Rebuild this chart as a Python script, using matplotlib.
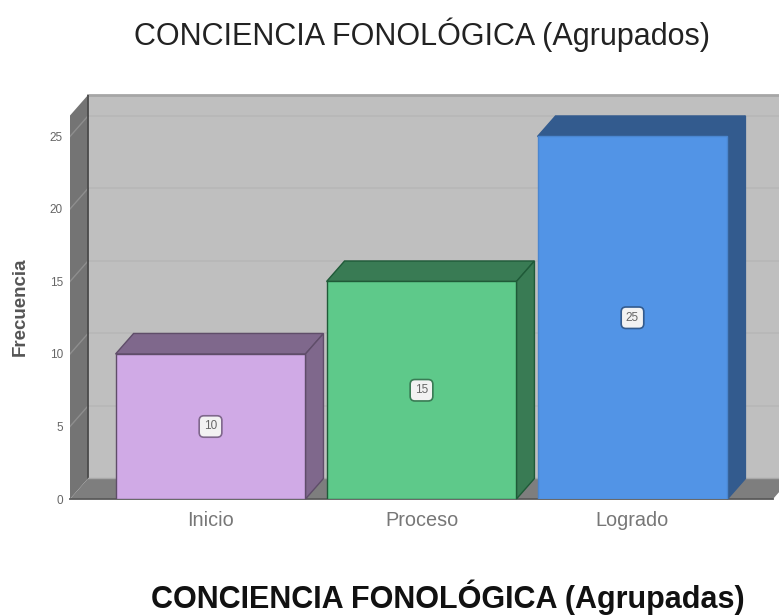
import numpy as np
import matplotlib
matplotlib.use('Agg')
import matplotlib.pyplot as plt
from matplotlib.patches import Polygon

categories = ['Inicio', 'Proceso', 'Logrado']
values = [10, 15, 25]
front_colors = ['#d0aae6', '#5ec98a', '#5294e6']
side_colors = ['#7f688c', '#397b54', '#335b8e']
edge_colors = ['#5f4d69', '#1f5a38', '#4a86d0']
side_edges = ['#5f4d69', '#1f5a38', '#335b8e']
y_ticks = [0, 5, 10, 15, 20, 25]

plt.rcParams['font.family'] = ['Liberation Sans', 'DejaVu Sans']

W, H = 779, 616
fig = plt.figure(figsize=(W / 100, H / 100), dpi=100)
ax = fig.add_axes([70 / W, (H - 499) / H, (773 - 70) / W, (499 - 95) / H])
ax.set_xlim(-0.666, 2.666)
ax.set_ylim(0, 27.86)
for s in ax.spines.values():
    s.set_visible(False)
ax.patch.set_visible(False)

# depth of the fake 3d box, in data units
dx = 18 / 211
dy = 20.5 / 14.5
x0, x1 = ax.get_xlim()
ytop = ax.get_ylim()[1]


def poly(points, fc, ec='none', lw=0.0, z=1):
    ax.add_patch(Polygon(points, closed=True, facecolor=fc, edgecolor=ec, linewidth=lw,
                         zorder=z, clip_on=False))


# walls
poly([(x0 + dx, dy), (x1 + dx, dy), (x1 + dx, ytop), (x0 + dx, ytop)], '#bfbfbf', z=1)
poly([(x0, 0), (x0 + dx, dy), (x0 + dx, ytop), (x0, ytop - dy)], '#747474', z=2)
poly([(x0, 0), (x1, 0), (x1 + dx, dy), (x0 + dx, dy)], '#7e7e7e', z=2)
ax.plot([x0 + dx, x1 + dx], [ytop, ytop], color='#a6a6a6', lw=2, zorder=3, clip_on=False)
ax.plot([x0 + dx, x0 + dx], [dy, ytop], color='#4a4a4a', lw=1.3, zorder=3)
ax.plot([x0 + dx, x1 + dx], [dy, dy], color='#a8a8a8', lw=1, zorder=3, clip_on=False)
ax.plot([x0, x1], [0, 0], color='#5a5a5a', lw=1.3, zorder=3, clip_on=False)

# gridlines on the back wall and the slanted part on the left wall
for t in y_ticks[1:]:
    ax.plot([x0 + dx, x1 + dx], [t + dy, t + dy], color='#b7b7b7', lw=1.2, zorder=1.5, clip_on=False)
    ax.plot([x0, x0 + dx], [t, t + dy], color='#8e8e8e', lw=1, zorder=2.5)

# bars
w = 0.9
pos = np.arange(len(categories))
ax.bar(pos, values, width=w, color=front_colors, edgecolor=edge_colors, linewidth=1.0, zorder=5)
for p, v, sc, ec in zip(pos, values, side_colors, side_edges):
    l, r = p - w / 2, p + w / 2
    poly([(l, v), (r, v), (r + dx, v + dy), (l + dx, v + dy)], sc, ec=ec, lw=1.0, z=4)
    poly([(r, 0), (r + dx, dy), (r + dx, v + dy), (r, v)], sc, ec=ec, lw=1.0, z=4)
    ax.text(p, v / 2, str(v), ha='center', va='center', fontsize=8.5, color='#666666', zorder=6,
            bbox=dict(boxstyle='round,pad=0.4', fc='#f2f2f2', ec=sc, lw=1.2))

ax.set_xticks(pos, categories)
ax.set_yticks(y_ticks)
ax.tick_params(axis='x', length=0, pad=9, labelsize=14.3, labelcolor='#777777')
ax.tick_params(axis='y', length=0, pad=5, labelsize=8.5, labelcolor='#666666')
ax.set_ylabel('Frecuencia', fontsize=13.5, color='#555555', fontweight='bold')
ax.yaxis.set_label_coords(-41 / (773 - 70), (499 - 307) / (499 - 95))

fig.text(422 / W, 1 - 35 / H, 'CONCIENCIA FONOLÓGICA (Agrupados)', ha='center', va='center',
         fontsize=22, color='#222222')
fig.text(448 / W, 1 - 597 / H, 'CONCIENCIA FONOLÓGICA (Agrupadas)', ha='center', va='center',
         fontsize=22, color='#111111', fontweight='bold')

fig.savefig('out.png', dpi=100)
